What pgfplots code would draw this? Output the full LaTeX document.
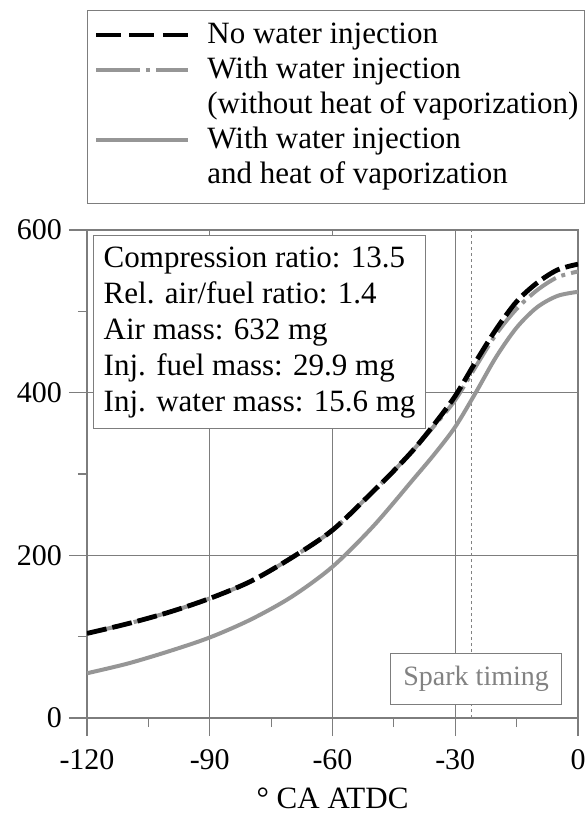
\documentclass[border=0pt]{standalone}
\usepackage{fontspec}
\setmainfont{Liberation Serif}
\usepackage{pgfplots}
\pgfplotsset{compat=1.18}

\definecolor{gridgray}{RGB}{125,125,125}
\definecolor{curvegray}{RGB}{150,150,150}
\definecolor{sparkgray}{RGB}{130,130,130}

\pgfplotsset{
    solidleg/.style={legend image code/.code={
        \draw[curvegray, line width=2pt] (0pt,4.5pt) -- (46pt,4.5pt);}},
    dotdashleg/.style={legend image code/.code={
        \draw[curvegray, line width=2pt, dash pattern=on 22pt off 3pt on 2pt off 3pt] (0pt,4.5pt) -- (46pt,4.5pt);}},
    dashleg/.style={legend image code/.code={
        \draw[black, line width=2.4pt, dash pattern=on 12.5pt off 4.2pt] (0pt,4.5pt) -- (46pt,4.5pt);}},
}

\begin{document}
\begin{tikzpicture}
\path[use as bounding box] (-43.5pt,-48pt) rectangle (249.5pt,359pt);
\begin{axis}[
    at={(0,0)}, anchor=south west,
    width=245.5pt, height=244pt, scale only axis,
    xmin=-120, xmax=0, ymin=0, ymax=600,
    xtick={-120,-90,-60,-30,0},
    xticklabels={-120,-90,-60,-30,0},
    ytick={0,200,400,600},
    yticklabels={0,200,400,600},
    minor xtick={-105,-75,-45,-15},
    minor ytick={100,300,500},
    tick pos=left,
    tick align=outside,
    major tick length=9pt, minor tick length=4.5pt,
    grid=major,
    major grid style={gridgray, line width=0.5pt},
    axis line style={gridgray, line width=0.6pt},
    every tick/.style={gridgray, line width=0.6pt},
    ticklabel style={font=\fontsize{15}{17}\selectfont},
    xticklabel shift=3pt,
    xlabel={° CA ATDC},
    xlabel style={at={(axis description cs:0.5,0)}, anchor=base, yshift=-45pt,
        font=\fontsize{15.5}{17.5}\selectfont},
    legend style={at={(0,1)}, anchor=south west, yshift=13pt,
        draw=gridgray, line width=0.6pt,
        font=\fontsize{15.5}{17.5}\selectfont,
        inner xsep=3pt, inner ysep=4.5pt,
        nodes={inner sep=0pt, text height=12.25pt, text depth=5.25pt},
        cells={anchor=base west},
        column sep=8.5pt, row sep=0pt},
]
% legend rows
\addlegendimage{dashleg}
\addlegendentry{No water injection}
\addlegendimage{dotdashleg}
\addlegendentry{With water injection}
\addlegendimage{empty legend}
\addlegendentry{(without heat of vaporization)}
\addlegendimage{solidleg}
\addlegendentry{With water injection}
\addlegendimage{empty legend}
\addlegendentry{and heat of vaporization}

% spark timing
\addplot[sparkgray, line width=0.8pt, dash pattern=on 1.5pt off 1.5pt, forget plot]
    coordinates {(-26,0) (-26,600)};

% with water injection and heat of vaporization
\addplot[curvegray, line width=2pt, smooth, forget plot]
    coordinates {
    (-120,55) (-110,67) (-100,82) (-90,99) (-80,121) (-70,149) (-60,186)
    (-50,236) (-40,295) (-35,325) (-30,358) (-25,400) (-20,444) (-15,480)
    (-10,505) (-5,519) (0,524)
};

% with water injection, without heat of vaporization
\addplot[curvegray, line width=2pt, smooth, forget plot,
    dash pattern=on 16pt off 3pt on 2pt off 3pt]
    coordinates {
    (-120,104) (-110,116) (-100,130) (-90,147) (-80,168) (-70,197) (-60,231)
    (-50,279) (-45,304) (-40,331) (-35,360) (-30,391) (-25,432) (-20,472) (-15,503)
    (-10,526) (-5,542) (0,549)
};

% no water injection
\addplot[black, line width=2.4pt, smooth, forget plot, dash pattern=on 10pt off 3pt]
    coordinates {
    (-120,104) (-110,116) (-100,130) (-90,147) (-80,168) (-70,197) (-60,231)
    (-50,279) (-45,304) (-40,331) (-35,362) (-30,396) (-25,438) (-20,478) (-15,512)
    (-10,535) (-5,551) (0,558)
};

\node[draw=gridgray, fill=white, line width=0.6pt, anchor=north west, align=left,
    inner xsep=5pt, inner ysep=5.5pt, font=\fontsize{15.5}{18}\selectfont]
    at (axis cs:-118.5,594)
    {Compression ratio: 13.5\\Rel. air/fuel ratio: 1.4\\Air mass: 632 mg\\Inj. fuel mass: 29.9 mg\\Inj. water mass: 15.6 mg};

\node[draw=gridgray, fill=white, line width=0.6pt, text=sparkgray,
    inner xsep=6.5pt, inner ysep=6.5pt, font=\fontsize{14}{16}\selectfont]
    at (axis cs:-24.9,48) {Spark timing};
\end{axis}
\end{tikzpicture}
\end{document}
